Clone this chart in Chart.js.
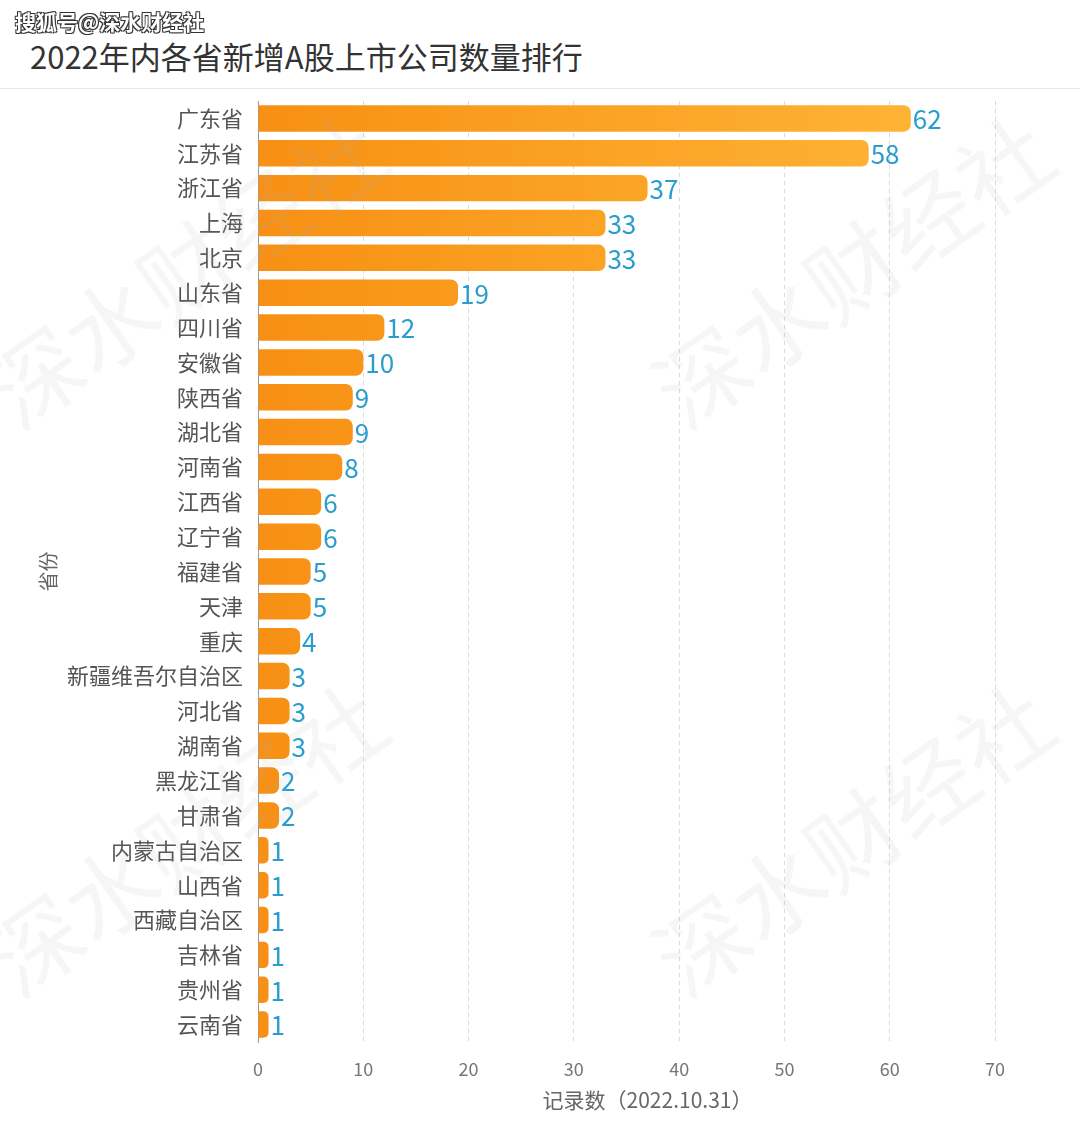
<!DOCTYPE html>
<html>
<head>
<meta charset="utf-8">
<script src="https://cdn.jsdelivr.net/npm/chart.js@4.4.0/dist/chart.umd.min.js"></script>
<style>
  body { margin: 0; background: #fff; font-family: "Noto Sans CJK SC", sans-serif; }
  #wrap { position: relative; width: 1080px; height: 1143px; overflow: hidden; }
  #title { position: absolute; left: 30px; top: 33px; font-size: 31px; color: #333; }
  #mark { position: absolute; left: 15px; top: 6px; font-size: 21px; font-weight: bold; color: #fff;
    text-shadow: -1px -1px 0 #333, 1px -1px 0 #333, -1px 1px 0 #333, 1px 1px 0 #333; }
  #rule { position: absolute; left: 0; right: 0; top: 88px; height: 1px; background: #e6e6e6; }
  #chartBox { position: absolute; left: 0; top: 0; width: 1080px; height: 1143px; }
</style>
</head>
<body>
<div id="wrap">
  <div id="rule"></div>
  <div id="title">2022年内各省新增A股上市公司数量排行</div>
  <div id="chartBox"><canvas id="barChart"></canvas></div>
  <div id="mark">搜狐号@深水财经社</div>
</div>
<script>
// data
const provinces = ['广东省', '江苏省', '浙江省', '上海', '北京', '山东省', '四川省', '安徽省', '陕西省', '湖北省',
  '河南省', '江西省', '辽宁省', '福建省', '天津', '重庆', '新疆维吾尔自治区', '河北省', '湖南省', '黑龙江省',
  '甘肃省', '内蒙古自治区', '山西省', '西藏自治区', '吉林省', '贵州省', '云南省'];
const counts = [62, 58, 37, 33, 33, 19, 12, 10, 9, 9, 8, 6, 6, 5, 5, 4, 3, 3, 3, 2, 2, 1, 1, 1, 1, 1, 1];
const xTicks = [0, 10, 20, 30, 40, 50, 60, 70];
const xTitle = '记录数（2022.10.31）';

const CJK = '"Noto Sans CJK SC", sans-serif';

// value labels at bar ends
const valueLabels = {
  id: 'valueLabels',
  afterDatasetsDraw(chart) {
    const ctx = chart.ctx;
    const meta = chart.getDatasetMeta(0);
    ctx.save();
    ctx.font = '26px ' + CJK;
    ctx.fillStyle = '#2a9dcf';
    ctx.textAlign = 'left';
    ctx.textBaseline = 'middle';
    meta.data.forEach((bar, i) => {
      ctx.fillText(String(counts[i]), bar.x + 2, bar.y + 1);
    });
    ctx.restore();
  }
};

// x axis title, sits a little right of the plot centre
const axisTitle = {
  id: 'axisTitle',
  afterDraw(chart) {
    const ctx = chart.ctx;
    const a = chart.chartArea;
    ctx.save();
    ctx.font = '21px ' + CJK;
    ctx.fillStyle = '#666';
    ctx.textAlign = 'center';
    ctx.textBaseline = 'middle';
    ctx.fillText(xTitle, (a.left + a.right) / 2 + 21, 1100);
    ctx.restore();
  }
};

// faint diagonal watermarks
const watermark = {
  id: 'watermark',
  afterDraw(chart) {
    const ctx = chart.ctx;
    const spots = [[18, 432], [685, 432], [18, 1000], [685, 1000]];
    ctx.save();
    ctx.font = '92px ' + CJK;
    ctx.fillStyle = 'rgba(170,170,170,0.11)';
    spots.forEach(([x, y]) => {
      ctx.save();
      ctx.translate(x, y);
      ctx.rotate(-35 * Math.PI / 180);
      ctx.fillText('深水财经社', 0, 0);
      ctx.restore();
    });
    ctx.restore();
  }
};

function barGradient(context) {
  const area = context.chart.chartArea;
  if (!area) return '#f7941d';
  const g = context.chart.ctx.createLinearGradient(area.left, 0, area.right, 0);
  g.addColorStop(0, '#f79014');
  g.addColorStop(1, '#ffb838');
  return g;
}

const ctxBar = document.getElementById('barChart').getContext('2d');
new Chart(ctxBar, {
  type: 'bar',
  data: {
    labels: provinces,
    datasets: [{
      data: counts,
      backgroundColor: barGradient,
      borderRadius: 7,
      borderSkipped: 'start',
      barPercentage: 0.76,
      categoryPercentage: 1
    }]
  },
  options: {
    indexAxis: 'y',
    responsive: true, maintainAspectRatio: false,
    animation: false,
    layout: { padding: { top: 101, right: 85, bottom: 0, left: 0 } },
    plugins: { legend: { display: false }, tooltip: { enabled: false } },
    scales: {
      x: {
        min: 0, max: 70,
        afterBuildTicks: s => { s.ticks = xTicks.map(v => ({ value: v })); },
        afterFit: s => { s.height = 101; },
        ticks: { color: '#777', padding: 16, font: { size: 18, family: CJK } },
        grid: { color: '#d9d9d9', drawTicks: false, lineWidth: 1 },
        border: { display: false, dash: [4, 4] },
        title: { display: false }
      },
      y: {
        afterFit: s => { s.width = 258; },
        ticks: { color: '#555', padding: 15, font: { size: 22, family: CJK } },
        grid: { display: false, drawTicks: false },
        border: { display: true, color: '#999', width: 1 },
        title: { display: true, text: '省份', color: '#666', font: { size: 20, family: CJK },
          padding: { top: 36, bottom: 0 } }
      }
    }
  },
  plugins: [valueLabels, axisTitle, watermark]
});
</script>
</body>
</html>
